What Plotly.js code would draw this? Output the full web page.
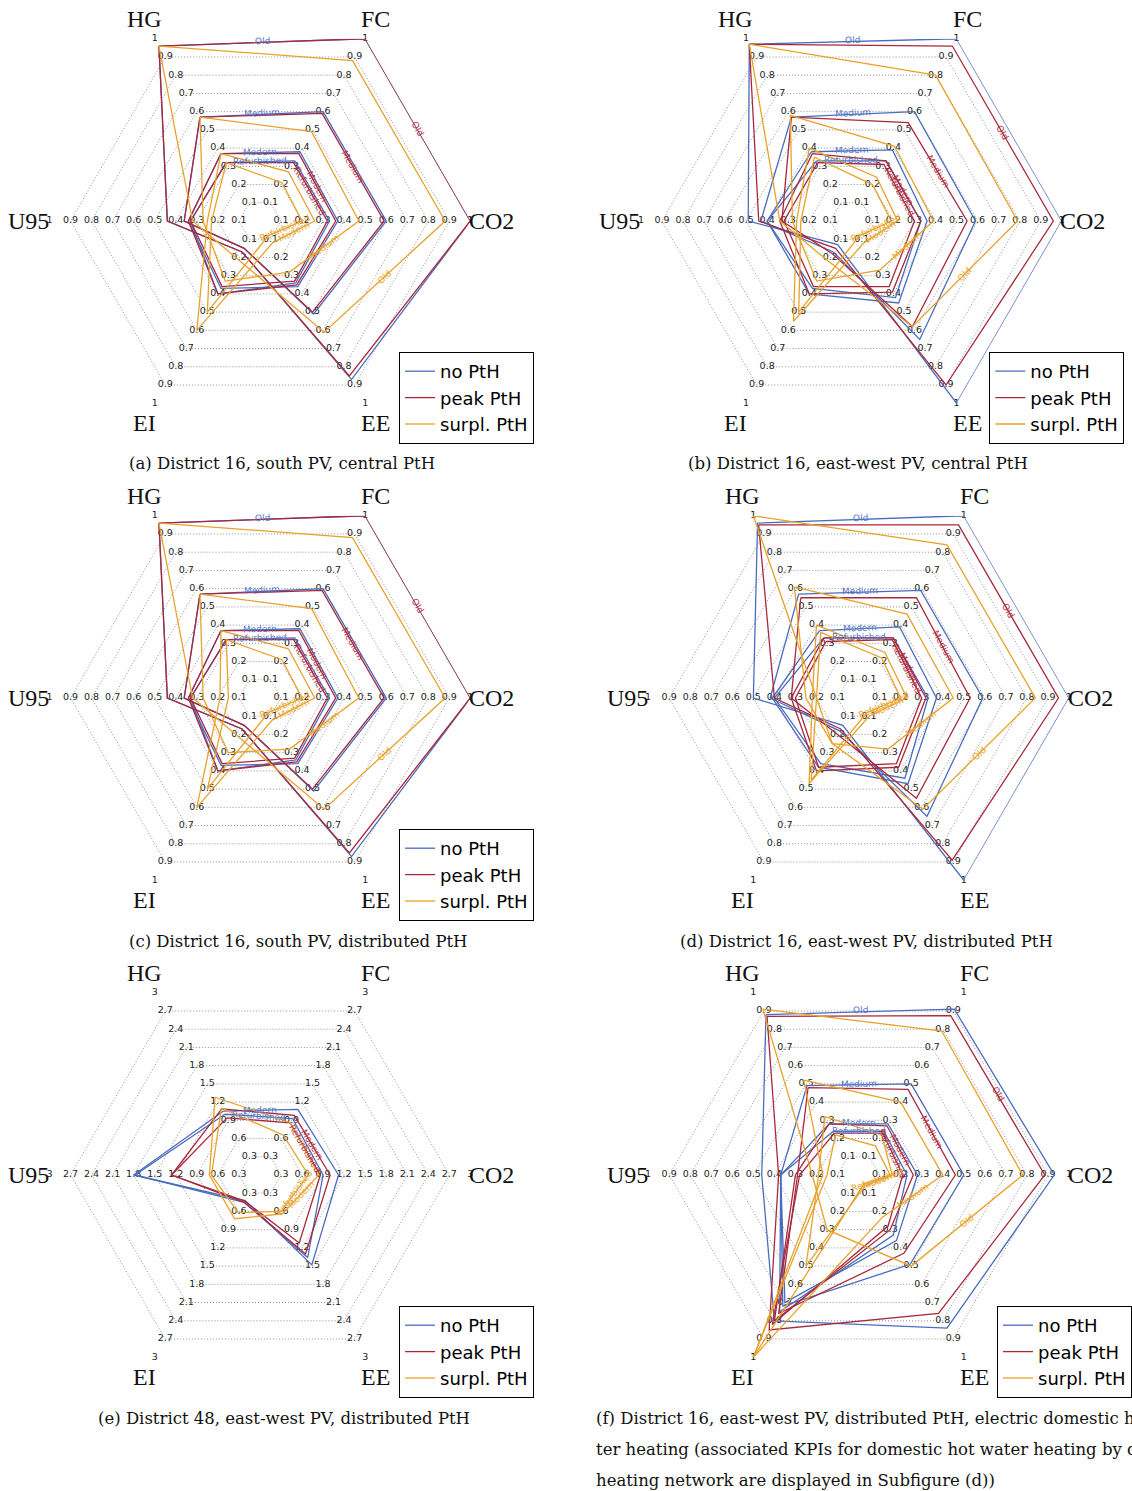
<!DOCTYPE html>
<html><head><meta charset="utf-8">
<script src="https://cdn.plot.ly/plotly-3.0.1.min.js"></script>
<style>html,body{margin:0;padding:0;background:#fff;} #chart{width:1132px;height:1491px;}</style>
</head><body><div id="chart"></div>
<script>
// ---------- categories / labels ----------
const kpis = ['HG','FC','CO2','EE','EI','U95'];
const buildingTypes = ['Old','Medium','Modern','Refurbished'];
const buildingTypesE = ['Modern','Refurbished'];
const seriesNames = ['no PtH','peak PtH','surpl. PtH'];
const ticks1 = [0.1,0.2,0.3,0.4,0.5,0.6,0.7,0.8,0.9,1];
const tickLabels1 = ['0.1','0.2','0.3','0.4','0.5','0.6','0.7','0.8','0.9','1'];
const ticks3 = [0.3,0.6,0.9,1.2,1.5,1.8,2.1,2.4,2.7,3];
const tickLabels3 = ['0.3','0.6','0.9','1.2','1.5','1.8','2.1','2.4','2.7','3'];

// ---------- data: rows = building types, columns = HG, FC, CO2, EE, EI, U95 ----------
// (a) District 16, south PV, central PtH
const a_noPtH = [[0.96,1.00,1.00,0.87,0.17,0.44],[0.57,0.60,0.60,0.51,0.15,0.36],[0.37,0.38,0.37,0.36,0.37,0.34],[0.32,0.33,0.33,0.34,0.40,0.33]];
const a_peakPtH = [[0.96,1.00,1.00,0.85,0.17,0.44],[0.57,0.59,0.59,0.50,0.15,0.36],[0.37,0.37,0.36,0.35,0.40,0.34],[0.32,0.32,0.32,0.33,0.36,0.33]];
const a_surplPtH = [[0.96,0.88,0.88,0.61,0.21,0.32],[0.57,0.49,0.47,0.28,0.33,0.27],[0.37,0.27,0.26,0.12,0.60,0.25],[0.32,0.21,0.20,0.08,0.50,0.23]];
// (b) District 16, east-west PV, central PtH
const b_noPtH = [[0.97,1.00,1.00,1.00,0.13,0.49],[0.57,0.60,0.59,0.65,0.17,0.43],[0.38,0.39,0.36,0.45,0.40,0.40],[0.33,0.33,0.33,0.42,0.37,0.40]];
const b_peakPtH = [[0.97,0.96,0.96,0.90,0.15,0.44],[0.57,0.54,0.55,0.58,0.18,0.33],[0.37,0.33,0.33,0.39,0.40,0.34],[0.32,0.31,0.30,0.36,0.36,0.32]];
const b_surplPtH = [[0.97,0.80,0.79,0.58,0.22,0.34],[0.58,0.41,0.39,0.27,0.33,0.28],[0.40,0.24,0.22,0.12,0.55,0.26],[0.35,0.20,0.19,0.08,0.50,0.24]];
// (c) District 16, south PV, distributed PtH
const c_noPtH = [[0.96,1.00,1.00,0.87,0.17,0.44],[0.57,0.60,0.60,0.51,0.15,0.36],[0.37,0.38,0.37,0.36,0.37,0.34],[0.32,0.33,0.33,0.34,0.40,0.33]];
const c_peakPtH = [[0.96,1.00,1.00,0.85,0.17,0.44],[0.57,0.59,0.59,0.50,0.15,0.36],[0.37,0.37,0.36,0.35,0.40,0.34],[0.32,0.32,0.32,0.33,0.36,0.33]];
const c_surplPtH = [[0.96,0.88,0.88,0.61,0.21,0.32],[0.57,0.49,0.47,0.28,0.30,0.27],[0.37,0.27,0.26,0.12,0.60,0.19],[0.32,0.21,0.20,0.08,0.50,0.15]];
// (d) District 16, east-west PV, distributed PtH
const d_noPtH = [[0.96,1.00,1.00,1.00,0.15,0.50],[0.57,0.59,0.59,0.65,0.18,0.42],[0.37,0.39,0.37,0.47,0.38,0.41],[0.33,0.33,0.33,0.44,0.36,0.40]];
const d_peakPtH = [[0.95,0.95,0.95,0.89,0.17,0.40],[0.55,0.55,0.53,0.55,0.20,0.32],[0.33,0.33,0.32,0.38,0.40,0.32],[0.31,0.32,0.30,0.36,0.38,0.30]];
const d_surplPtH = [[1.00,0.84,0.84,0.61,0.25,0.20],[0.61,0.46,0.45,0.28,0.25,0.25],[0.40,0.25,0.23,0.10,0.47,0.22],[0.36,0.22,0.20,0.08,0.45,0.20]];
// (e) District 48, east-west PV, distributed PtH (Modern, Refurbished)
const e_noPtH = [[1.05,1.08,1.12,1.48,0.42,1.80],[1.00,0.93,0.90,1.36,0.45,1.78]];
const e_peakPtH = [[1.09,0.98,1.00,1.30,0.45,1.26],[0.94,0.86,0.86,1.12,0.43,1.26]];
const e_surplPtH = [[1.28,0.86,0.84,0.64,0.72,0.72],[1.10,0.66,0.69,0.60,0.62,0.69]];
// (f) District 16, east-west PV, distributed PtH, electric domestic hot water heating
const f_noPtH = [[0.88,0.91,0.93,0.84,0.80,0.46],[0.49,0.50,0.50,0.49,0.72,0.37],[0.28,0.28,0.28,0.36,0.70,0.37],[0.24,0.24,0.23,0.33,0.75,0.37]];
const f_peakPtH = [[0.87,0.875,0.885,0.76,0.85,0.38],[0.48,0.47,0.46,0.43,0.76,0.29],[0.28,0.27,0.26,0.30,0.80,0.30],[0.23,0.23,0.21,0.28,0.82,0.28]];
const f_surplPtH = [[0.91,0.79,0.78,0.50,0.30,0.22],[0.52,0.40,0.40,0.23,1.00,0.17],[0.32,0.22,0.16,0.06,0.50,0.19],[0.22,0.16,0.15,0.05,1.00,0.15]];

const captions = {
  a: ['(a) District 16, south PV, central PtH'],
  b: ['(b) District 16, east-west PV, central PtH'],
  c: ['(c) District 16, south PV, distributed PtH'],
  d: ['(d) District 16, east-west PV, distributed PtH'],
  e: ['(e) District 48, east-west PV, distributed PtH'],
  f: ['(f) District 16, east-west PV, distributed PtH, electric domestic hot wa-',
      'ter heating (associated KPIs for domestic hot water heating by district',
      'heating network are displayed in Subfigure (d))']
};

// ---------- styling / layout (not data) ----------
const W = 1132, H = 1491, R = 212.5;
const colors = ['#4a6cbf', '#a8283c', '#e8a22a'];
const labelColors = ['#5878c6', '#b0303f', '#eba530'];
const panels = [
  {key:'a', sub:'polar',  cx:262.5, cy:221,  max:1, ticks:ticks1, tl:tickLabels1, types:buildingTypes,  data:[a_noPtH,a_peakPtH,a_surplPtH], legend:'legend',  lx:403,  ly:352,  capX:285, capY:463},
  {key:'b', sub:'polar2', cx:859.7, cy:221,  max:1, ticks:ticks1, tl:tickLabels1, types:buildingTypes,  data:[b_noPtH,b_peakPtH,b_surplPtH], legend:'legend2', lx:999,  ly:352,  capX:866, capY:463},
  {key:'c', sub:'polar3', cx:262.5, cy:698,  max:1, ticks:ticks1, tl:tickLabels1, types:buildingTypes,  data:[c_noPtH,c_peakPtH,c_surplPtH], legend:'legend3', lx:403,  ly:829,  capX:301, capY:941},
  {key:'d', sub:'polar4', cx:867,   cy:698,  max:1, ticks:ticks1, tl:tickLabels1, types:buildingTypes,  data:[d_noPtH,d_peakPtH,d_surplPtH], legend:null,      lx:0,    ly:0,    capX:875, capY:941},
  {key:'e', sub:'polar5', cx:262.5, cy:1175, max:3, ticks:ticks3, tl:tickLabels3, types:buildingTypesE, data:[e_noPtH,e_peakPtH,e_surplPtH], legend:'legend4', lx:403,  ly:1306, capX:287, capY:1418},
  {key:'f', sub:'polar6', cx:867,   cy:1175, max:1, ticks:ticks1, tl:tickLabels1, types:buildingTypes,  data:[f_noPtH,f_peakPtH,f_surplPtH], legend:'legend5', lx:1007, ly:1306, capX:600, capY:1418}
];

const traces = [];
const layout = {
  width: W, height: H, margin: {l:0, r:0, t:0, b:0},
  paper_bgcolor: '#fff', showlegend: true, annotations: []
};

function screenPos(p, k, v) {
  const ang = (120 - 60 * k) * Math.PI / 180;
  const rr = R * v / p.max;
  return {x: p.cx + rr * Math.cos(ang), y: p.cy - rr * Math.sin(ang)};
}

panels.forEach(p => {
  // polar subplot
  layout[p.sub] = {
    domain: {x: [(p.cx - R) / W, (p.cx + R) / W], y: [1 - (p.cy + R) / H, 1 - (p.cy - R) / H]},
    gridshape: 'linear',
    bgcolor: 'rgba(0,0,0,0)',
    angularaxis: {type: 'category', categoryarray: kpis, rotation: 120, direction: 'clockwise',
      showgrid: false, showline: false, ticks: '', showticklabels: false},
    radialaxis: {range: [0, p.max], tickvals: p.ticks, showticklabels: false, ticks: '',
      showline: false, gridcolor: '#8f8f8f', griddash: '1px,2px', gridwidth: 1}
  };
  // axis names just outside the outer ring
  kpis.forEach((k, i) => {
    const q = screenPos(p, i, p.max * 1.1);
    layout.annotations.push({xref: 'paper', yref: 'paper', x: q.x / W, y: 1 - q.y / H, text: k,
      showarrow: false, xanchor: 'center', yanchor: 'middle',
      font: {family: 'Liberation Serif, DejaVu Serif, serif', size: 24, color: '#111'}});
  });
  // tick labels on every axis
  const tr = [], tt = [], tx = [];
  kpis.forEach(k => p.ticks.forEach((v, i) => { tr.push(v); tt.push(k); tx.push(p.tl[i]); }));
  traces.push({type: 'scatterpolar', subplot: p.sub, mode: 'text', r: tr, theta: tt, text: tx,
    textposition: 'middle center', textfont: {family: 'DejaVu Sans, sans-serif', size: 9.5, color: '#222'},
    showlegend: false, hoverinfo: 'skip', cliponaxis: false});
  // series polygons
  p.data.forEach((rows, s) => {
    rows.forEach((vals, t) => {
      const tr2 = {type: 'scatterpolar', subplot: p.sub, mode: 'lines',
        r: vals.concat([vals[0]]), theta: kpis.concat([kpis[0]]),
        name: seriesNames[s], legendgroup: p.key + s,
        line: {color: colors[s], width: 1.3},
        showlegend: !!p.legend && t === 0, hoverinfo: 'name+r+theta'};
      if (p.legend) tr2.legend = p.legend;
      traces.push(tr2);
      // building-type label on edge s -> s+1 of this series
      const p1 = screenPos(p, s, vals[s]), p2 = screenPos(p, s + 1, vals[s + 1]);
      let ang = Math.atan2(p2.y - p1.y, p2.x - p1.x) * 180 / Math.PI;
      if (ang > 90) ang -= 180;
      if (ang < -90) ang += 180;
      layout.annotations.push({xref: 'paper', yref: 'paper', x: (p1.x + p2.x) / 2 / W, y: 1 - (p1.y + p2.y) / 2 / H,
        text: p.types[t], showarrow: false, textangle: ang, xanchor: 'center', yanchor: 'middle',
        font: {family: 'DejaVu Sans, sans-serif', size: 9, color: labelColors[s]}});
    });
  });
  if (p.legend) {
    layout[p.legend] = {x: p.lx / W, y: 1 - p.ly / H, xanchor: 'left', yanchor: 'top',
      bgcolor: '#fff', bordercolor: '#000', borderwidth: 1, tracegroupgap: 0, itemwidth: 30,
      font: {family: 'DejaVu Sans, sans-serif', size: 18, color: '#000'}};
  }
  // caption
  captions[p.key].forEach((line, i) => {
    layout.annotations.push({xref: 'paper', yref: 'paper', x: p.capX / W, y: 1 - (p.capY + 31 * i) / H,
      text: line, showarrow: false, xanchor: p.key === 'f' ? 'left' : 'center', yanchor: 'middle',
      font: {family: 'DejaVu Serif, serif', size: 16.5, color: '#111'}});
  });
});

Plotly.newPlot('chart', traces, layout, {displayModeBar: false, staticPlot: true});
</script>
</body></html>
